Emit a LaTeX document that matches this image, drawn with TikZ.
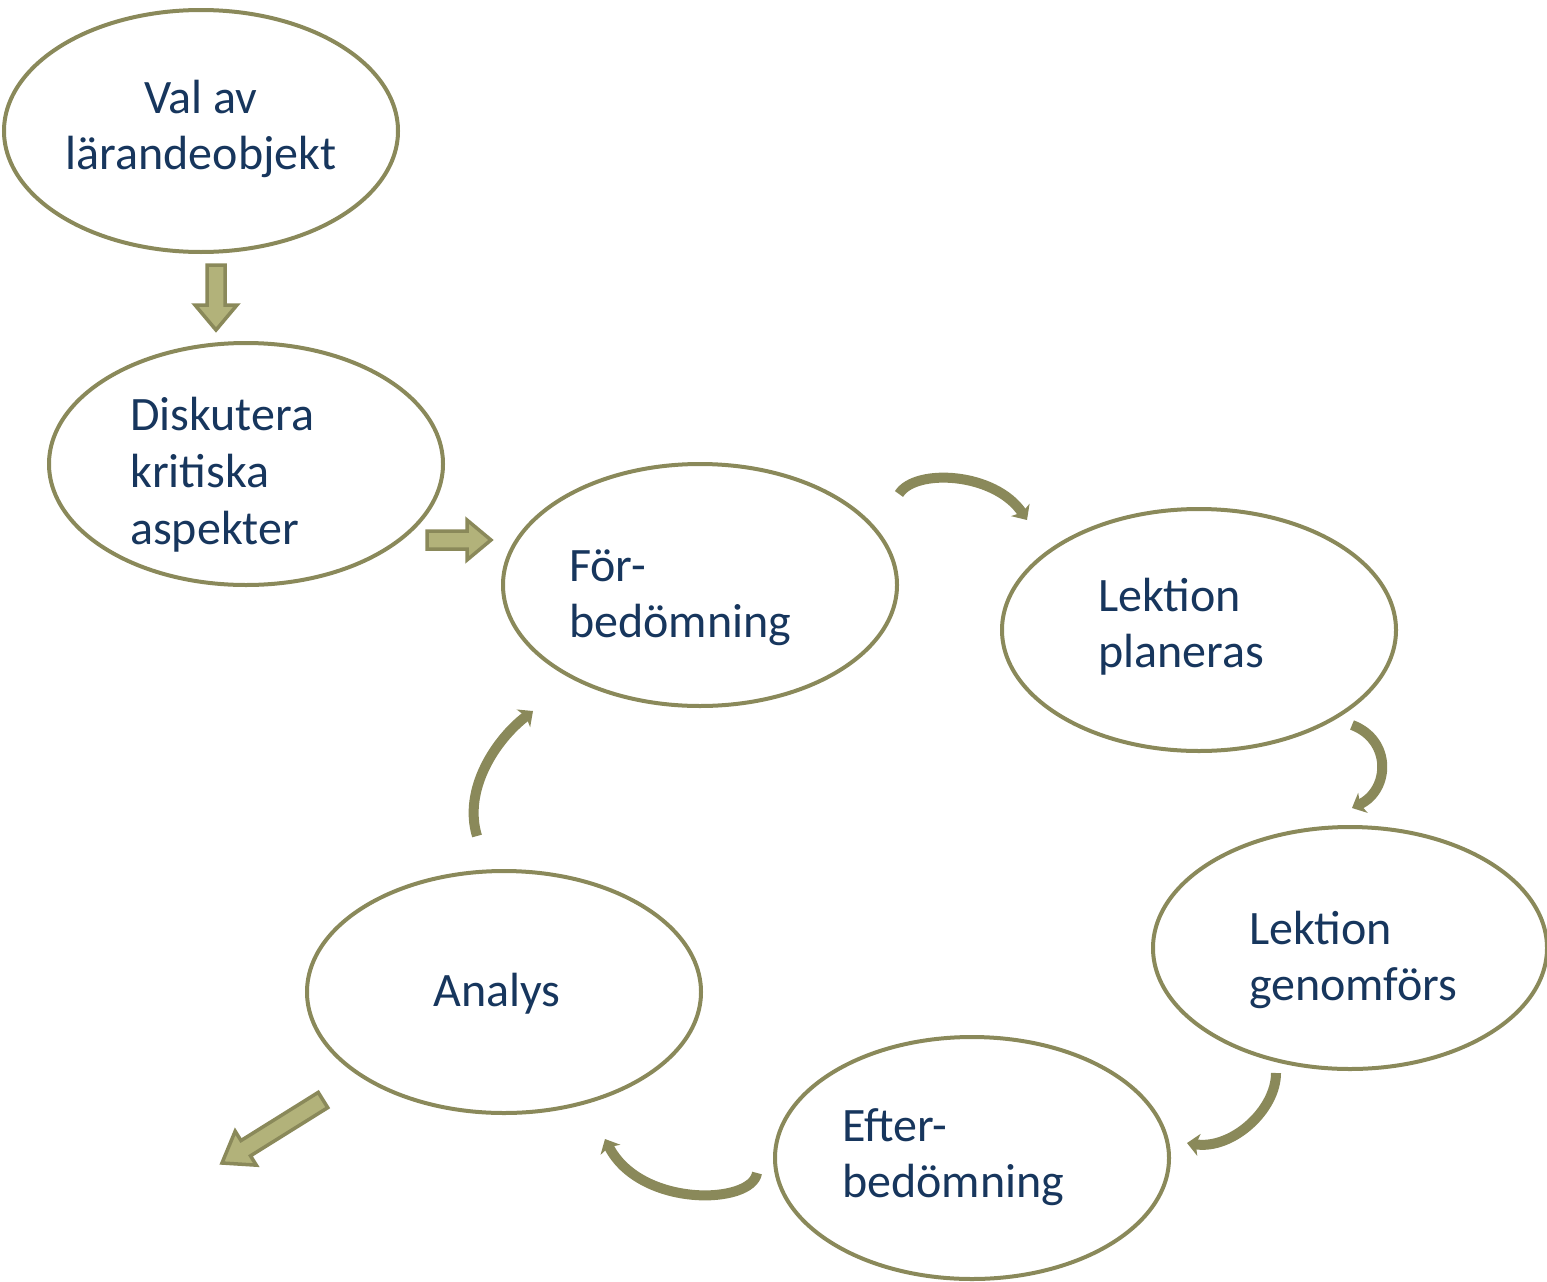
\documentclass[tikz,border=0pt]{standalone}
\usepackage{fontspec}
\setmainfont{Carlito}
\usetikzlibrary{shapes.geometric,arrows.meta,calc}
\definecolor{olive1}{HTML}{8A895A}
\definecolor{olivefill}{HTML}{B2B27A}
\definecolor{olivelight}{HTML}{C4C48E}
\definecolor{navy}{HTML}{17365D}
\tikzset{
  bubble/.style={ellipse, draw=olive1, line width=4pt, minimum width=394pt, minimum height=242pt, inner sep=0pt},
  lbl/.style={text=navy, font=\fontsize{48pt}{56pt}\selectfont, inner sep=0pt, anchor=base west},
  curvearrow/.style={draw=olive1, line width=10pt, -{Stealth[length=12pt,width=22pt,inset=3pt]}},
  blockarrow/.style={draw=olive1, fill=olivefill, line width=3.5pt, line join=miter}
}
\newcommand{\blockarr}[5]{% a, b, shaft half width, head half width, head length
  \coordinate (hh) at ($(#2)!#5!(#1)$);
  \draw[blockarrow] ($(#1)!#3!90:(#2)$) -- ($(hh)!#3!-90:(#1)$) -- ($(hh)!#4!-90:(#1)$) -- (#2)
     -- ($(hh)!#4!90:(#1)$) -- ($(hh)!#3!90:(#1)$) -- ($(#1)!#3!-90:(#2)$) -- cycle;
}
\begin{document}
\begin{tikzpicture}[x=1pt,y=-1pt]
\useasboundingbox (0,0) rectangle (1547,1282);
% ellipses
\node[bubble] (e1) at (201,131) {};
\node[bubble] (e2) at (246,464) {};
\node[bubble] (e3) at (700,585) {};
\node[bubble] (e4) at (1199,630) {};
\node[bubble] (e5) at (1350,948) {};
\node[bubble] (e6) at (972,1158) {};
\node[bubble] (e7) at (504,992) {};
% texts
\node[lbl, anchor=base] (t1a) at (201,113) {Val av};
\node[lbl, anchor=base] (t1b) at (201,169) {lärandeobjekt};
\node[lbl] (t2a) at (130,430) {Diskutera};
\node[lbl] (t2b) at (130,487) {kritiska};
\node[lbl] (t2c) at (130,544) {aspekter};
\node[lbl] (t3a) at (569,581) {För-};
\node[lbl] (t3b) at (569,637) {bedömning};
\node[lbl] (t4a) at (1098,611) {Lektion};
\node[lbl] (t4b) at (1098,667) {planeras};
\node[lbl] (t5a) at (1249,944) {Lektion};
\node[lbl] (t5b) at (1249,1000) {genomförs};
\node[lbl] (t6a) at (842,1141) {Efter-};
\node[lbl] (t6b) at (842,1197) {bedömning};
\node[lbl, anchor=base] (t7) at (497,1006) {Analys};
% block arrows
\coordinate (b1s) at (216,265); \coordinate (b1e) at (216,330);
\blockarr{b1s}{b1e}{9pt}{21pt}{25pt}
\coordinate (b2s) at (427,540); \coordinate (b2e) at (491,540);
\blockarr{b2s}{b2e}{9pt}{20pt}{24pt}
\coordinate (b3s) at (323,1100); \coordinate (b3e) at (222,1163);
\blockarr{b3s}{b3e}{9pt}{20pt}{28pt}
% curved arrows
\coordinate (c4s) at (899,494); \coordinate (c4e) at (1027,520);
\draw[curvearrow] (c4s) .. controls (915,468) and (995,472) .. (c4e);
\coordinate (c5s) at (1352,725); \coordinate (c5e) at (1352,808);
\draw[curvearrow] (c5s) .. controls (1392,740) and (1390,790) .. (c5e);
\coordinate (c6s) at (1276,1073); \coordinate (c6e) at (1187,1143);
\draw[curvearrow] (c6s) .. controls (1276,1110) and (1232,1150) .. (c6e);
\coordinate (c7s) at (757,1173); \coordinate (c7e) at (605,1139);
\draw[curvearrow] (c7s) .. controls (752,1205) and (640,1208) .. (c7e);
\coordinate (c8s) at (477,836); \coordinate (c8e) at (533,711);
\draw[curvearrow] (c8s) .. controls (463,790) and (495,740) .. (c8e);
\end{tikzpicture}
\end{document}
